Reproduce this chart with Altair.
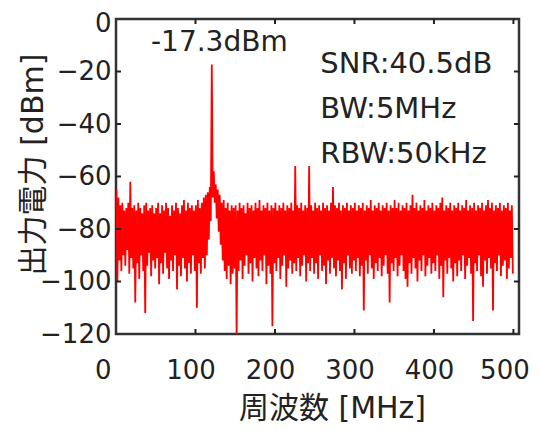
import altair as alt
import numpy as np
import pandas as pd

# Frequency grid (MHz): bin start, bin width
f_start = 0.5
f_step = 2.5

# Upper envelope of the noise per bin (dBm)
hi_vals = [
    -65, -68, -71, -70, -73, -72, -70, -62, -72, -71, -73, -70, -72, -74, -71, -70, -73, -72, -71, -74,
    -72, -70, -74, -71, -73, -70, -72, -75, -71, -73, -70, -72, -74, -71, -69, -73, -70, -72, -71, -73,
    -71, -69, -72, -70, -68, -67, -66, -64, -17.3, -58, -63, -65, -67, -70, -69, -72, -70, -73, -71, -72,
    -71, -73, -70, -72, -71, -74, -70, -72, -71, -73, -70, -72, -69, -73, -71, -72, -70, -73, -71, -72,
    -70, -73, -71, -72, -70, -73, -71, -72, -70, -73, -56, -71, -72, -70, -73, -71, -72, -56, -71, -73,
    -70, -72, -71, -73, -70, -72, -71, -73, -70, -64, -71, -72, -70, -73, -71, -72, -70, -73, -71, -72,
    -70, -73, -71, -72, -70, -73, -71, -72, -69, -73, -71, -72, -70, -73, -71, -72, -70, -73, -71, -72,
    -69, -72, -70, -73, -71, -72, -70, -73, -71, -67, -72, -70, -73, -71, -72, -69, -73, -71, -72, -70,
    -73, -71, -72, -70, -68, -73, -71, -72, -70, -73, -71, -72, -70, -73, -71, -72, -69, -73, -71, -72,
    -70, -73, -71, -72, -70, -73, -71, -69, -72, -70, -73, -71, -72, -70, -73, -71, -72, -70, -73, -71,
]

# Lower envelope of the noise per bin (dBm)
lo_vals = [
    -100, -92, -96, -90, -94, -88, -97, -91, -95, -108, -93, -99, -90, -96, -112, -94, -89, -98, -92, -95,
    -91, -101, -93, -97, -89, -95, -99, -92, -96, -90, -103, -94, -98, -91, -95, -100, -93, -97, -90, -96,
    -110, -93, -97, -91, -95, -90, -84, -77, -68, -70, -76, -81, -86, -92, -96, -99, -94, -101, -97, -95,
    -120, -96, -92, -99, -94, -90, -97, -93, -100, -91, -95, -98, -92, -96, -90, -101, -94, -97, -117, -93,
    -96, -91, -99, -94, -90, -102, -95, -92, -97, -93, -96, -91, -98, -94, -90, -100, -93, -96, -91, -97,
    -93, -99, -90, -96, -94, -101, -92, -97, -91, -95, -98, -92, -96, -103, -93, -99, -90, -95, -97, -92,
    -96, -91, -98, -94, -111, -92, -97, -90, -95, -99, -93, -96, -91, -98, -94, -90, -97, -108, -93, -96,
    -91, -98, -94, -90, -96, -99, -102, -93, -97, -91, -95, -100, -92, -96, -90, -98, -94, -91, -97, -93,
    -96, -90, -99, -94, -106, -92, -97, -91, -95, -100, -93, -98, -92, -96, -90, -99, -94, -91, -97, -115,
    -93, -96, -90, -98, -102, -92, -97, -91, -95, -111, -93, -96, -90, -98, -94, -92, -99, -95, -91, -97,
]

x_labels = [0, 100, 200, 300, 400, 500]
x_ticks = [100, 200, 300, 400, 500]
y_labels = [-120, -100, -80, -60, -40, -20, 0]
y_ticks = [-100, -80, -60, -40, -20]

peak_label = "-17.3dBm"
info_lines = ["SNR:40.5dB", "BW:5MHz", "RBW:50kHz"]

# Build zig-zag trace (hi at bin start, lo at bin middle)
rows = []
for i, (h, l) in enumerate(zip(hi_vals, lo_vals)):
    f = f_start + f_step * i
    rows.append({"freq": f, "power": h, "order": 2 * i})
    rows.append({"freq": f + f_step / 2, "power": l, "order": 2 * i + 1})
trace = pd.DataFrame(rows)

W, H = 403, 315
FONT = "DejaVu Sans, Noto Sans CJK JP"
TXT = "#222222"

xscale = alt.Scale(domain=[0, 507], nice=False, zero=False)
yscale = alt.Scale(domain=[-120, 0], nice=False, zero=False)

x_label_offset = {"condition": {"test": "datum.value == 500", "value": -9}, "value": -5}
x_label_align = {"condition": {"test": "datum.value == 0", "value": "right"}, "value": "center"}
y_label_offset = {"condition": {"test": "datum.value == 0", "value": 4}, "value": 0}

line = alt.Chart(trace).mark_line(color="#ff0000", strokeWidth=1.8, clip=True).encode(
    x=alt.X("freq:Q", scale=xscale,
            axis=alt.Axis(values=x_labels, title="周波数 [MHz]", ticks=False, tickSize=0,
                          domain=False, grid=False, labelFontSize=26, labelFont=FONT,
                          labelColor=TXT, labelPadding=36, labelBaseline="middle",
                          labelOffset=x_label_offset, labelAlign=x_label_align,
                          titleFontSize=30, titleFont=FONT, titleColor=TXT, titleFontWeight="normal",
                          titleX=216, titleY=74, titleBaseline="middle", titleAlign="center")),
    y=alt.Y("power:Q", scale=yscale,
            axis=alt.Axis(values=y_labels, title="出力電力 [dBm]",
                          ticks=False, tickSize=0, domain=False, grid=False, labelFontSize=26,
                          labelFont=FONT, labelColor=TXT, labelPadding=5,
                          labelOffset=y_label_offset,
                          titleFontSize=30, titleFont=FONT, titleColor=TXT, titleFontWeight="normal",
                          titleX=-83, titleY=145, titleBaseline="middle", titleAlign="center",
                          titleAngle=270)),
    order="order:O",
)

xt = pd.DataFrame({"freq": x_ticks})
yt = pd.DataFrame({"power": y_ticks})
tick_style = dict(color="#222222", strokeWidth=2)

top_ticks = alt.Chart(xt).mark_rule(**tick_style).encode(
    x=alt.X("freq:Q", scale=xscale), y=alt.value(0), y2=alt.value(5))
bot_ticks = alt.Chart(xt).mark_rule(**tick_style).encode(
    x=alt.X("freq:Q", scale=xscale), y=alt.value(H - 5), y2=alt.value(H))
left_ticks = alt.Chart(yt).mark_rule(**tick_style).encode(
    y=alt.Y("power:Q", scale=yscale), x=alt.value(0), x2=alt.value(5))
right_ticks = alt.Chart(yt).mark_rule(**tick_style).encode(
    y=alt.Y("power:Q", scale=yscale), x=alt.value(W - 5), x2=alt.value(W))

peak_text = alt.Chart().mark_text(font=FONT, fontSize=28, color=TXT, align="center",
                                  baseline="middle").encode(
    x=alt.datum(130.0), y=alt.datum(-9.2), text=alt.value(peak_label))

info_text = [
    alt.Chart().mark_text(font=FONT, fontSize=29, color=TXT, align="left", baseline="middle").encode(
        x=alt.datum(257.0), y=alt.datum(yv), text=alt.value(t))
    for t, yv in zip(info_lines, [-17.2, -34.3, -51.5])
]

chart = alt.layer(line, top_ticks, bot_ticks, left_ticks, right_ticks, peak_text, *info_text).properties(
    width=W, height=H,
    autosize=alt.AutoSizeParams(type="none"),
    padding={"left": 108, "top": 11, "right": 12, "bottom": 89},
).configure_view(stroke="#333333", strokeWidth=2.5)

chart.save("out.html", embed_options={"renderer": "svg", "actions": False})
